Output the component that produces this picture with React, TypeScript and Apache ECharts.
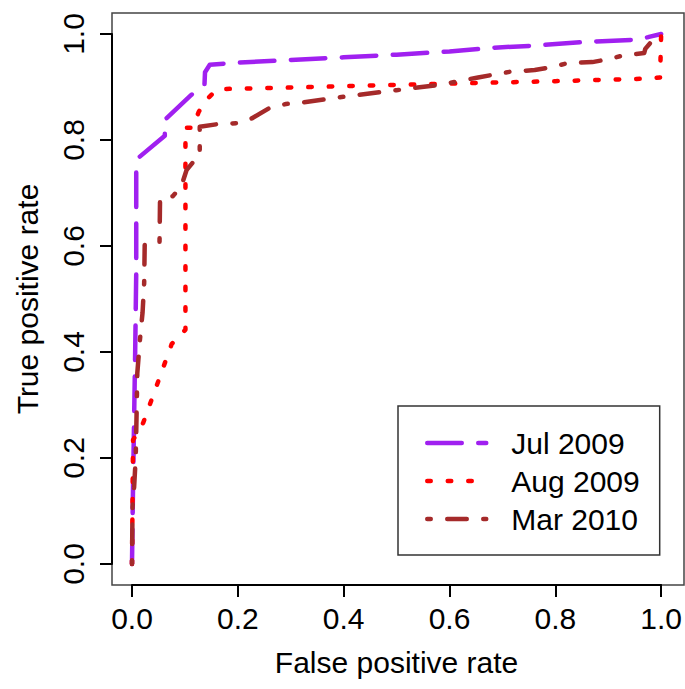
import React, { useEffect, useRef } from "react";
import * as echarts from "echarts";

// ROC curves: [false positive rate, true positive rate]
const jul2009: number[][] = [
  [0, 0], [0.002, 0.15], [0.006, 0.4], [0.008, 0.55], [0.008, 0.745], [0.014, 0.768],
  [0.062, 0.808], [0.062, 0.838], [0.112, 0.885], [0.137, 0.905], [0.138, 0.928],
  [0.147, 0.942], [0.2, 0.946], [0.3, 0.951], [0.4, 0.956], [0.5, 0.961], [0.6, 0.967],
  [0.68, 0.974], [0.76, 0.978], [0.855, 0.985], [0.95, 0.989], [0.975, 0.994], [1, 1],
];
const aug2009: number[][] = [
  [0, 0], [0.002, 0.234], [0.021, 0.266], [0.049, 0.343], [0.075, 0.415], [0.101, 0.442],
  [0.101, 0.823], [0.115, 0.823], [0.126, 0.853], [0.14, 0.875], [0.161, 0.896],
  [0.3, 0.899], [0.5, 0.904], [0.67, 0.908], [0.8, 0.911], [0.98, 0.916], [0.998, 0.918], [1, 1],
];
const mar2010: number[][] = [
  [0, 0], [0.001, 0.108], [0.004, 0.145], [0.007, 0.2], [0.009, 0.3], [0.01, 0.36],
  [0.012, 0.385], [0.015, 0.423], [0.02, 0.475], [0.023, 0.53], [0.024, 0.602],
  [0.052, 0.605], [0.053, 0.69], [0.077, 0.694], [0.093, 0.712], [0.103, 0.743],
  [0.12, 0.764], [0.128, 0.77], [0.128, 0.825], [0.162, 0.83], [0.203, 0.832],
  [0.227, 0.841], [0.259, 0.86], [0.291, 0.868], [0.316, 0.87], [0.41, 0.883],
  [0.5, 0.894], [0.58, 0.904], [0.654, 0.918], [0.716, 0.929], [0.761, 0.932],
  [0.791, 0.937], [0.823, 0.945], [0.87, 0.947], [0.898, 0.952], [0.93, 0.96],
  [0.968, 0.964], [0.97, 0.972], [0.987, 0.992], [1, 1],
];

const seriesNames = ["Jul 2009", "Aug 2009", "Mar 2010"];
const seriesColors = ["#A020F0", "#FF0000", "#A52A2A"];
const seriesDash = [[34.5, 16.5], [3.5, 17], [3.5, 16.5, 19.5, 16.5]];
const seriesData = [jul2009, aug2009, mar2010];

const xTitle = "False positive rate";
const yTitle = "True positive rate";

const FONT = "'Liberation Sans', Arial, sans-serif";

export default function App() {
  const ref = useRef<HTMLDivElement>(null);
  useEffect(() => {
    if (!ref.current) return;
    const chart = echarts.init(ref.current, undefined, { renderer: "svg" });
    const axisCommon = {
      type: "value" as const,
      min: 0,
      max: 1,
      interval: 0.2,
      splitLine: { show: false },
      axisLine: { show: true, onZero: false, lineStyle: { color: "#000", width: 2 } },
      axisTick: { show: true, length: 12, inside: false, lineStyle: { color: "#000", width: 2 } },
      nameLocation: "middle" as const,
      nameTextStyle: { fontSize: 30, color: "#000", fontFamily: FONT },
    };
    chart.setOption({
      animation: false,
      backgroundColor: "#fff",
      grid: { left: 132, top: 34, width: 532, height: 530, containLabel: false },
      xAxis: {
        ...axisCommon,
        offset: 21,
        name: xTitle,
        nameGap: 62,
        axisLabel: {
          fontSize: 30, color: "#000", fontFamily: FONT, margin: 18,
          formatter: (v: number) => v.toFixed(1),
        },
      },
      yAxis: {
        ...axisCommon,
        offset: 20,
        name: yTitle,
        nameGap: 70,
        axisLabel: {
          fontSize: 30, color: "#000", fontFamily: FONT, margin: 24, rotate: 90,
          formatter: (v: number) => v.toFixed(1),
        },
      },
      legend: {
        orient: "vertical",
        left: 398,
        top: 406,
        padding: [22, 20, 21, 27],
        itemWidth: 59,
        itemHeight: 14,
        itemGap: 8,
        borderColor: "#333",
        borderWidth: 1.5,
        itemStyle: { opacity: 0 },
        lineStyle: { width: 4.5, cap: "round" },
        textStyle: { fontSize: 30, color: "#000", fontFamily: FONT, lineHeight: 30, padding: [0, 0, 0, 20] },
        data: seriesNames,
      },
      graphic: [
        {
          type: "rect",
          z: -1,
          shape: { x: 112, y: 13, width: 572, height: 572 },
          style: { fill: "none", stroke: "#444", lineWidth: 1.5 },
        },
      ],
      series: seriesData.map((d, i) => ({
        name: seriesNames[i],
        type: "line",
        data: d,
        symbol: "none",
        clip: false,
        color: seriesColors[i],
        lineStyle: {
          color: seriesColors[i],
          width: 4.5,
          type: seriesDash[i],
          cap: "round",
          join: "round",
        },
      })),
    });
    return () => chart.dispose();
  }, []);
  return (
    <div
      ref={ref}
      style={{ position: "fixed", left: 0, top: 0, width: 685, height: 689 }}
    />
  );
}
